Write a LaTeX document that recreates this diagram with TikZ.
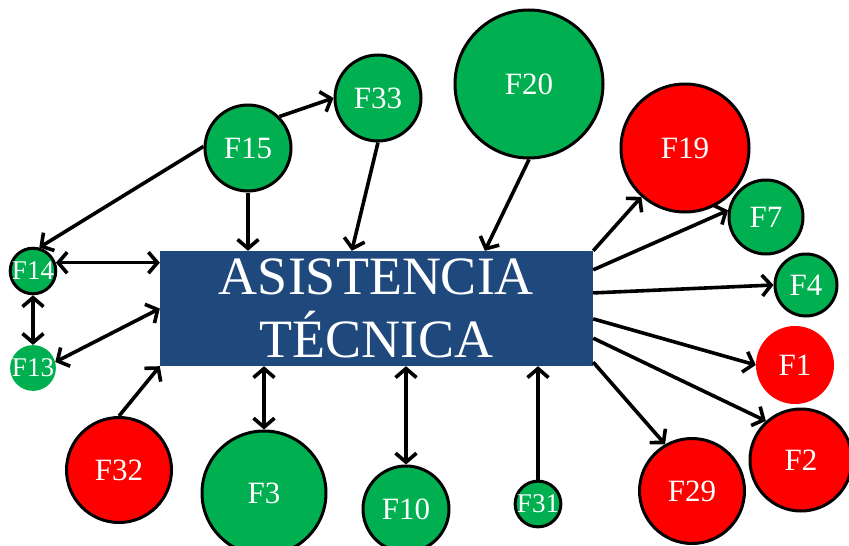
\documentclass[tikz,border=0pt]{standalone}
\usepackage{fontspec}
\setmainfont{Liberation Serif}
\usetikzlibrary{arrows.meta,calc}
\definecolor{fgreen}{HTML}{00B050}
\definecolor{fred}{HTML}{FF0000}
\definecolor{fblue}{HTML}{1F497D}
\tikzset{
  fac/.style={circle, inner sep=0pt, minimum size=#1, text=white,
    font=\fontsize{31}{31}\selectfont},
  small/.style={font=\fontsize{27}{27}\selectfont},
  rim/.style={draw=black, line width=3pt},
  gfac/.style={fac=#1, fill=fgreen},
  rfac/.style={fac=#1, fill=fred},
  link/.style={line width=3.6pt, -{Straight Barb[length=9pt,width=21pt]}},
  blink/.style={line width=3.6pt, {Straight Barb[length=9pt,width=21pt]}-{Straight Barb[length=9pt,width=21pt]}},
}
\begin{document}
\begin{tikzpicture}[x=1pt,y=-1pt]
\useasboundingbox (0,0) rectangle (849,546);
\clip (0,0) rectangle (849,546);

\node[fill=fblue, inner sep=0pt, minimum width=433pt, minimum height=115pt,
  text=white, align=center, font=\fontsize{54}{63}\selectfont]
  (box) at (376.5,308.5) {ASISTENCIA\\TÉCNICA};

\node[gfac=44pt, rim, small] (F14) at (33,271) {F14};
\node[gfac=44pt, small] (F13) at (33,368) {F13};
\node[gfac=86pt, rim] (F15) at (248,148) {F15};
\node[gfac=86pt, rim] (F33) at (378,98) {F33};
\node[gfac=148pt, rim] (F20) at (529,84) {F20};
\node[rfac=128pt, rim] (F19) at (685,148) {F19};
\node[gfac=74pt, rim] (F7) at (766,217) {F7};
\node[gfac=62pt, rim] (F4) at (806,285) {F4};
\node[rfac=78pt] (F1) at (795,365) {F1};
\node[rfac=102pt, rim] (F2) at (801,460) {F2};
\node[rfac=105pt, rim] (F29) at (692,491) {F29};
\node[rfac=105pt, rim] (F32) at (119,470) {F32};
\node[gfac=124pt, rim] (F3) at (264,493) {F3};
\node[gfac=86pt, rim] (F10) at (406,509) {F10};
\node[gfac=44pt, rim, small] (F31) at (538,504) {F31};

% top
\draw[link] (F15.178) -- (F14.75);
\draw[link] (F15.45) -- (F33.west);
\draw[link] (F15.south) -- (F15.south |- box.north);
\draw[link] (F33.south) -- ($(box.north west)!0.443!(box.north east)$);
\draw[link] (F20.south) -- ($(box.north west)!0.75!(box.north east)$);
% left
\draw[blink] (F14.20) -- (F14.20 -| box.west);
\draw[blink] (F14.south) -- (F13.north);
\draw[blink] (F13.15) -- (box.west);
\draw[link] (F32.north) -- (box.south west);
% bottom
\draw[blink] (F3.north) -- (F3.north |- box.south);
\draw[blink] (F10.north) -- (F10.north |- box.south);
\draw[link] (F31.north) -- (F31.north |- box.south);
% right
\draw[link] (box.north east) -- (F19);
\draw[link] ($(box.north east)!0.165!(box.south east)$) -- (F7.170);
\draw[link] ($(box.north east)!0.365!(box.south east)$) -- (F4.west);
\draw[link] ($(box.north east)!0.59!(box.south east)$) -- (F1.west);
\draw[link] ($(box.north east)!0.757!(box.south east)$) -- (F2.132);
\draw[link] ($(box.north east)!0.965!(box.south east)$) -- (F29.120);
\end{tikzpicture}
\end{document}
